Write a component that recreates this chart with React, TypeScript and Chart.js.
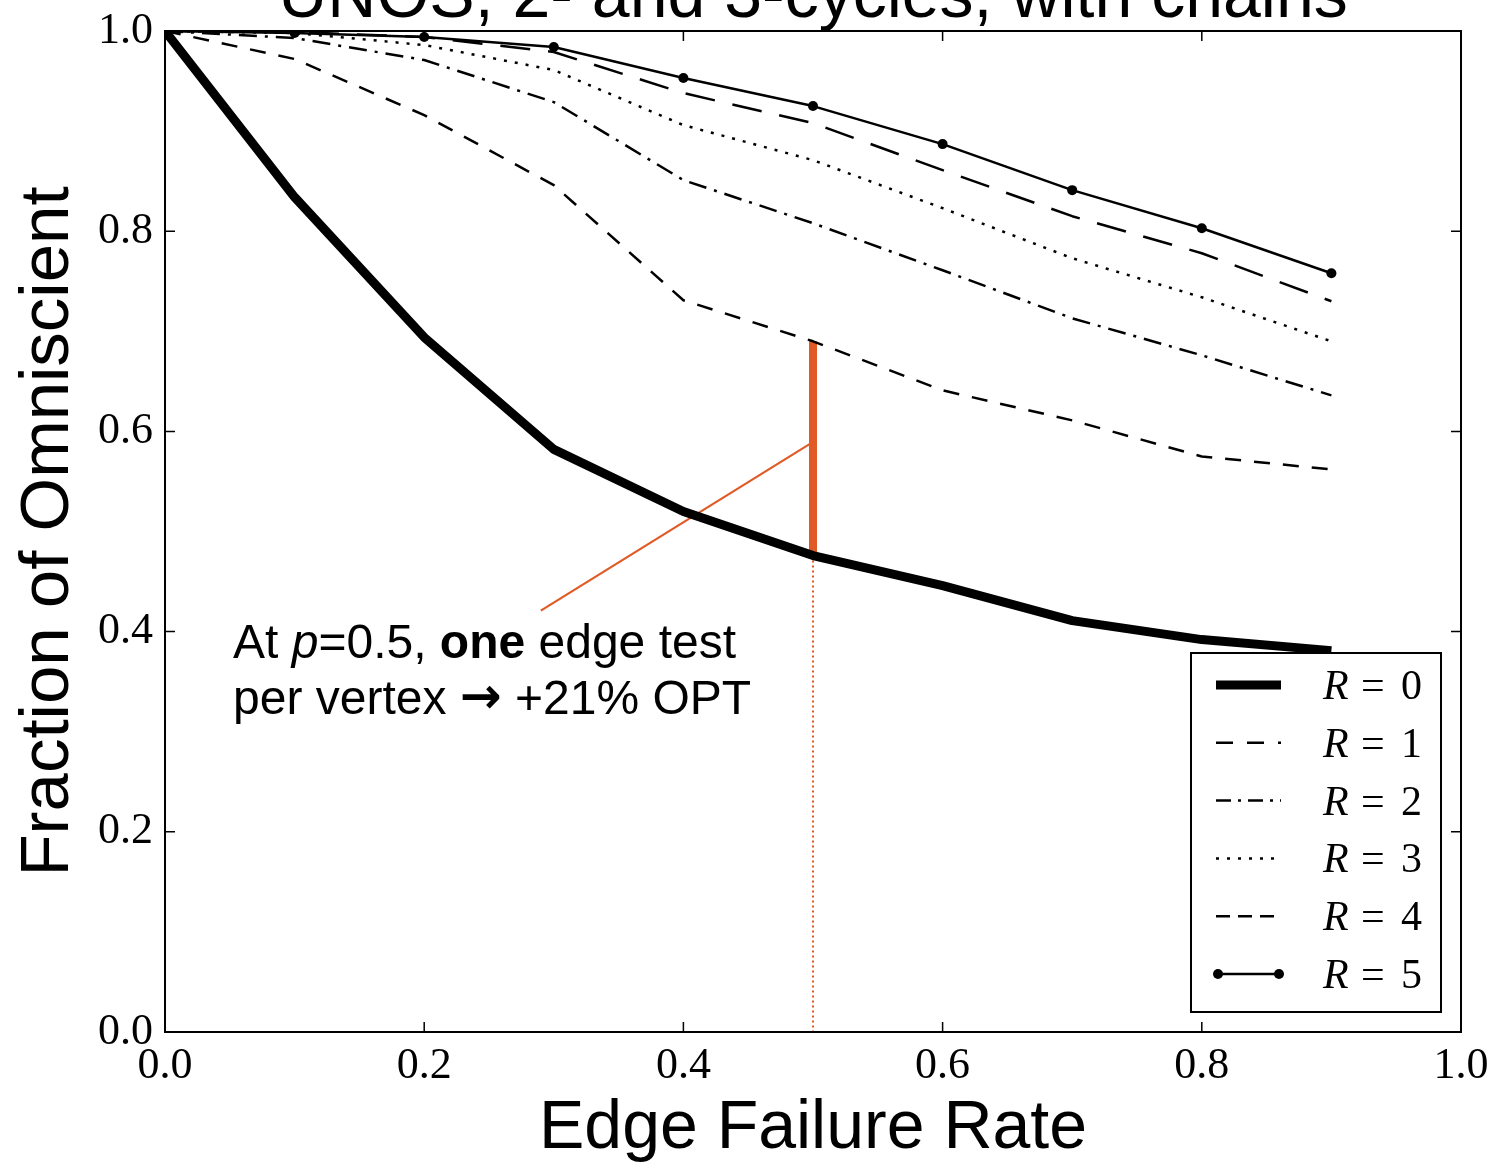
import React, { useEffect, useRef } from "react";
import { Chart, registerables } from "chart.js";

Chart.register(...registerables);

// ---------- data ----------
const failureRates = [0, 0.1, 0.2, 0.3, 0.4, 0.5, 0.6, 0.7, 0.8, 0.9];
const r0 = [1.0, 0.834, 0.694, 0.582, 0.52, 0.476, 0.446, 0.411, 0.392, 0.381];
const r1 = [1.0, 0.972, 0.916, 0.846, 0.731, 0.69, 0.641, 0.611, 0.575, 0.562];
const r2 = [1.0, 0.993, 0.971, 0.929, 0.851, 0.808, 0.761, 0.713, 0.676, 0.636];
const r3 = [1.0, 0.998, 0.986, 0.961, 0.906, 0.871, 0.823, 0.773, 0.734, 0.69];
const r4 = [1.0, 0.999, 0.994, 0.979, 0.938, 0.908, 0.861, 0.815, 0.778, 0.73];
const r5 = [1.0, 0.998, 0.994, 0.984, 0.953, 0.925, 0.887, 0.841, 0.803, 0.758];
const seriesLabels = ["R = 0", "R = 1", "R = 2", "R = 3", "R = 4", "R = 5"];
const axisTicks = [0, 0.2, 0.4, 0.6, 0.8, 1.0];

const highlightX = 0.5;
const highlightIndex = 5;
const connectorStart = [0.29, 0.421];
const connectorEnd = [0.502, 0.591];
const noteAnchor = [0.0525, 0.3736];

const titleText = "UNOS, 2- and 3-cycles, with chains";
const xTitleText = "Edge Failure Rate";
const yTitleText = "Fraction of Omniscient";
const noteLine1 = [
  { t: "At ", s: "normal" },
  { t: "p", s: "italic" },
  { t: "=0.5, ", s: "normal" },
  { t: "one", s: "bold" },
  { t: " edge test", s: "normal" },
];
const noteLine2 = [
  { t: "per vertex ", s: "normal" },
  { t: "\u2192", s: "arrow" },
  { t: " +21% OPT", s: "normal" },
];

const ORANGE = "#E05A26";
const SANS = "'Liberation Sans', Arial, Helvetica, sans-serif";
const SERIF = "'Liberation Serif', 'DejaVu Serif', serif";

const styles = [
  { width: 9, dash: [] as number[], legendDash: [] as number[], marker: false },
  { width: 2.5, dash: [16, 13], legendDash: [17, 14], marker: false },
  { width: 2.5, dash: [18, 8, 3, 8], legendDash: [15, 7, 3, 7], marker: false },
  { width: 2.5, dash: [3, 8], legendDash: [3, 8], marker: false },
  { width: 2.5, dash: [30, 18], legendDash: [14, 8], marker: false },
  { width: 2.5, dash: [] as number[], legendDash: [] as number[], marker: true },
];

const pts = (ys: number[]) => failureRates.map((x, i) => ({ x, y: ys[i] }));

export default function App() {
  const ref = useRef<HTMLCanvasElement | null>(null);

  useEffect(() => {
    const canvas = ref.current;
    if (!canvas) return;
    const series = [r0, r1, r2, r3, r4, r5];

    const datasets: any[] = series.map((ys, i) => ({
      label: seriesLabels[i],
      data: pts(ys),
      borderColor: "#000",
      backgroundColor: "#000",
      borderWidth: styles[i].width,
      borderDash: styles[i].dash,
      borderJoinStyle: "round",
      pointRadius: styles[i].marker ? 5 : 0,
      pointBorderWidth: 0,
      pointBackgroundColor: "#000",
      tension: 0,
      clip: 0,
      fill: false,
    }));

    // annotation lines
    datasets.push({
      label: "gap",
      data: [
        { x: highlightX, y: r1[highlightIndex] },
        { x: highlightX, y: r0[highlightIndex] },
      ],
      borderColor: ORANGE,
      borderWidth: 8,
      pointRadius: 0,
      clip: 0,
    });
    datasets.push({
      label: "drop",
      data: [
        { x: highlightX, y: r0[highlightIndex] },
        { x: highlightX, y: 0 },
      ],
      borderColor: ORANGE,
      borderWidth: 2,
      borderDash: [2, 3],
      pointRadius: 0,
      clip: 0,
    });
    datasets.push({
      label: "connector",
      data: [
        { x: connectorStart[0], y: connectorStart[1] },
        { x: connectorEnd[0], y: connectorEnd[1] },
      ],
      borderColor: ORANGE,
      borderWidth: 2.2,
      pointRadius: 0,
      clip: 0,
    });

    const decorPlugin = {
      id: "decor",
      afterDatasetsDraw(chart: any) {
        const { ctx, chartArea: a, scales } = chart;
        ctx.save();
        // frame
        ctx.strokeStyle = "#000";
        ctx.lineWidth = 2;
        ctx.setLineDash([]);
        ctx.strokeRect(a.left, a.top, a.right - a.left, a.bottom - a.top);
        // inward ticks
        ctx.lineWidth = 1.5;
        const L = 10;
        ctx.beginPath();
        for (const t of axisTicks) {
          const px = scales.x.getPixelForValue(t);
          ctx.moveTo(px, a.bottom);
          ctx.lineTo(px, a.bottom - L);
          ctx.moveTo(px, a.top);
          ctx.lineTo(px, a.top + L);
          const py = scales.y.getPixelForValue(t);
          ctx.moveTo(a.left, py);
          ctx.lineTo(a.left + L, py);
          ctx.moveTo(a.right, py);
          ctx.lineTo(a.right - L, py);
        }
        ctx.stroke();

        // note text
        ctx.fillStyle = "#000";
        ctx.textBaseline = "alphabetic";
        ctx.textAlign = "left";
        const nx = scales.x.getPixelForValue(noteAnchor[0]);
        const ny = scales.y.getPixelForValue(noteAnchor[1]);
        const drawRuns = (runs: any[], x: number, y: number) => {
          let cx = x;
          for (const r of runs) {
            if (r.s === "arrow") {
              ctx.font = `bold 50px 'DejaVu Sans', ${SANS}`;
              ctx.fillText(r.t, cx, y - 1);
            } else {
              const pre = r.s === "italic" ? "italic " : r.s === "bold" ? "bold " : "";
              ctx.font = `${pre}48px ${SANS}`;
              ctx.fillText(r.t, cx, y);
            }
            cx += ctx.measureText(r.t).width;
          }
        };
        drawRuns(noteLine1, nx, ny);
        drawRuns(noteLine2, nx, ny + 56);

        // title (partially above the page)
        ctx.font = `68px ${SANS}`;
        ctx.textAlign = "center";
        ctx.fillText(titleText, (a.left + a.right) / 2, a.top - 14);

        // legend
        const bw = 250;
        const bh = 359;
        const bx = a.right - 20 - bw;
        const by = a.bottom - 20 - bh;
        ctx.fillStyle = "#fff";
        ctx.fillRect(bx, by, bw, bh);
        ctx.strokeStyle = "#000";
        ctx.lineWidth = 2;
        ctx.strokeRect(bx, by, bw, bh);
        chart.data.datasets.slice(0, 6).forEach((ds: any, i: number) => {
          const cy = by + 32 + i * 57.8;
          const st = styles[i];
          ctx.save();
          ctx.strokeStyle = "#000";
          ctx.lineWidth = st.width;
          ctx.setLineDash(st.legendDash);
          ctx.beginPath();
          ctx.moveTo(bx + 25, cy);
          ctx.lineTo(bx + 90, cy);
          ctx.stroke();
          if (st.marker) {
            ctx.fillStyle = "#000";
            for (const mx of [bx + 27, bx + 88]) {
              ctx.beginPath();
              ctx.arc(mx, cy, 5, 0, Math.PI * 2);
              ctx.fill();
            }
          }
          ctx.restore();
          const parts = String(ds.label).split(" = ");
          ctx.fillStyle = "#000";
          ctx.textAlign = "left";
          ctx.textBaseline = "alphabetic";
          const base = cy + 14;
          ctx.font = `italic 42px ${SERIF}`;
          ctx.fillText(parts[0], bx + 132, base);
          ctx.font = `42px ${SERIF}`;
          ctx.fillText("=", bx + 170, base);
          ctx.fillText(parts[1], bx + 210, base);
        });
        ctx.restore();
      },
    };

    const chart = new Chart(canvas, {
      type: "line",
      data: { datasets },
      options: {
        animation: false,
        responsive: false,
        maintainAspectRatio: false,
        layout: { padding: { left: 0, top: 31, right: 36, bottom: 0 } },
        plugins: {
          legend: { display: false },
          tooltip: { enabled: false },
          title: { display: false },
        },
        scales: {
          x: {
            type: "linear",
            min: 0,
            max: 1,
            afterFit: (s: any) => {
              s.height = 133;
            },
            afterBuildTicks: (s: any) => {
              s.ticks = axisTicks.map((v) => ({ value: v }));
            },
            grid: { display: false, drawTicks: false },
            border: { display: false },
            ticks: {
              padding: 8,
              color: "#000",
              font: { family: SERIF, size: 44 },
              callback: (v: any) => Number(v).toFixed(1),
              maxRotation: 0,
              autoSkip: false,
            },
            title: {
              display: true,
              text: xTitleText,
              color: "#000",
              font: { family: SANS, size: 68, lineHeight: 1 },
              padding: { top: 0, bottom: 2 },
            },
          },
          y: {
            type: "linear",
            min: 0,
            max: 1,
            afterFit: (s: any) => {
              s.width = 165;
            },
            afterBuildTicks: (s: any) => {
              s.ticks = axisTicks.map((v) => ({ value: v }));
            },
            grid: { display: false, drawTicks: false },
            border: { display: false },
            ticks: {
              padding: 12,
              color: "#000",
              font: { family: SERIF, size: 44, lineHeight: 0.8 },
              callback: (v: any) => Number(v).toFixed(1),
              autoSkip: false,
            },
            title: {
              display: true,
              text: yTitleText,
              color: "#000",
              font: { family: SANS, size: 69, lineHeight: 1 },
              padding: { top: 14, bottom: 0 },
            },
          },
        },
      },
      plugins: [decorPlugin],
    });

    return () => chart.destroy();
  }, []);

  return (
    <div style={{ position: "absolute", left: 0, top: 0, width: 1497, height: 1165, background: "#fff" }}>
      <canvas ref={ref} width={1497} height={1165} style={{ display: "block", width: 1497, height: 1165 }} />
    </div>
  );
}
